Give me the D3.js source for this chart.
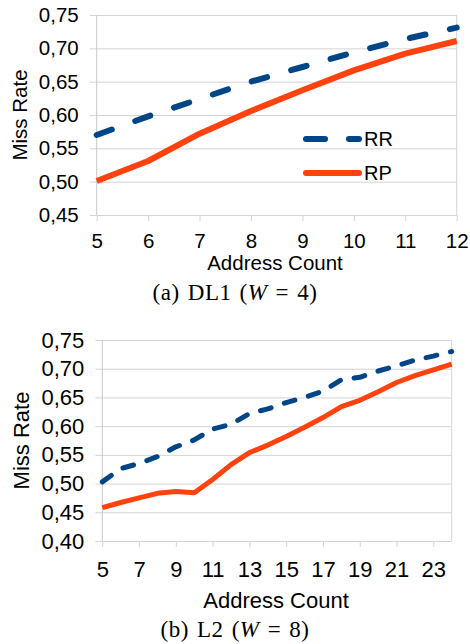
<!DOCTYPE html>
<html>
<head>
<meta charset="utf-8">
<script src="https://cdn.jsdelivr.net/npm/d3@7"></script>
<style>
  html, body { margin: 0; padding: 0; background: #fff; }
  svg { display: block; }
  .tick text { font-family: "Liberation Sans", Arial, sans-serif; fill: #000; }
  .axis path.domain { display: none; }
</style>
</head>
<body>
<svg id="chart" width="470" height="644"></svg>
<script>
// --- data ---
var dl1Count = [5, 6, 7, 8, 9, 10, 11, 12];
var dl1RR = [0.570, 0.598, 0.624, 0.650, 0.672, 0.694, 0.714, 0.731];
var dl1RP = [0.501, 0.531, 0.572, 0.606, 0.637, 0.667, 0.692, 0.711];
var dl1XTicks = [5, 6, 7, 8, 9, 10, 11, 12];
var dl1YTicks = [0.45, 0.50, 0.55, 0.60, 0.65, 0.70, 0.75];

var l2Count = [5, 6, 7, 8, 9, 10, 11, 12, 13, 14, 15, 16, 17, 18, 19, 20, 21, 22, 23, 24];
var l2RR = [0.503, 0.526, 0.535, 0.547, 0.564, 0.576, 0.595, 0.603, 0.622, 0.630,
            0.641, 0.650, 0.661, 0.681, 0.685, 0.696, 0.705, 0.715, 0.722, 0.730];
var l2RP = [0.458, 0.467, 0.475, 0.483, 0.486, 0.484, 0.507, 0.533, 0.554, 0.567,
            0.582, 0.598, 0.615, 0.634, 0.645, 0.660, 0.676, 0.688, 0.698, 0.708];
var l2XTicks = [5, 7, 9, 11, 13, 15, 17, 19, 21, 23];
var l2YTicks = [0.40, 0.45, 0.50, 0.55, 0.60, 0.65, 0.70, 0.75];

var seriesNames = ["RR", "RP"];
var seriesColors = ["#004586", "#ff420e"];

var comma = d3.formatLocale({decimal: ",", thousands: ".", grouping: [3], currency: ["", ""]}).format(".2f");
var svg = d3.select("#chart");

function drawPanel(opt) {
  var width = opt.right - opt.left,
      height = opt.bottom - opt.top;

  var x = d3.scaleLinear().domain(opt.xDomain).range([0, width]);
  var y = d3.scaleLinear().domain(opt.yDomain).range([height, 0]);

  var g = svg.append("g")
      .attr("transform", "translate(" + opt.left + "," + opt.top + ")");

  // y axis + gridlines
  var yAxis = g.append("g")
      .attr("class", "axis y")
      .call(d3.axisLeft(y).tickValues(opt.yTicks).tickSize(7).tickPadding(11).tickFormat(comma));
  yAxis.selectAll(".tick line")
      .attr("x1", width)
      .attr("stroke", "#d4d4d4");
  yAxis.selectAll(".tick text")
      .style("font-size", opt.font + "px");

  // x axis ticks
  var xAxis = g.append("g")
      .attr("class", "axis x")
      .attr("transform", "translate(0," + height + ")")
      .call(d3.axisBottom(x).tickValues(opt.xTicks).tickSize(6).tickPadding(opt.xPad).tickFormat(d3.format("d")));
  xAxis.selectAll(".tick line").attr("stroke", "#d4d4d4");
  xAxis.selectAll(".tick text").style("font-size", opt.font + "px");

  // left axis line and right border
  g.append("line").attr("x1", 0).attr("x2", 0).attr("y1", 0).attr("y2", height).attr("stroke", "#c8c8c8");
  g.append("line").attr("x1", width).attr("x2", width).attr("y1", 0).attr("y2", height).attr("stroke", "#d4d4d4");

  // lines
  var line = d3.line()
      .x(function(d) { return x(d[0]); })
      .y(function(d) { return y(d[1]); });

  g.append("path")
      .datum(d3.zip(opt.count, opt.rp))
      .attr("d", line)
      .attr("fill", "none")
      .attr("stroke", seriesColors[1])
      .attr("stroke-width", opt.lw)
      .attr("stroke-linejoin", "round");

  g.append("path")
      .datum(d3.zip(opt.count, opt.rr))
      .attr("d", line)
      .attr("fill", "none")
      .attr("stroke", seriesColors[0])
      .attr("stroke-width", opt.lw)
      .attr("stroke-linecap", "round")
      .attr("stroke-linejoin", "round")
      .attr("stroke-dasharray", opt.dash);

  // axis titles
  svg.append("text")
      .attr("transform", "translate(" + opt.yTitleX + "," + (opt.top + height / 2) + ") rotate(-90)")
      .attr("text-anchor", "middle")
      .attr("dy", "0.35em")
      .style("font-family", "Liberation Sans, Arial, sans-serif")
      .style("font-size", opt.font + "px")
      .text("Miss Rate");

  svg.append("text")
      .attr("x", opt.xTitleX)
      .attr("y", opt.xTitleY)
      .attr("text-anchor", "middle")
      .style("font-family", "Liberation Sans, Arial, sans-serif")
      .style("font-size", opt.font + "px")
      .text("Address Count");

  // caption (wider math-style spacing)
  var cap = svg.append("text")
      .attr("x", opt.capX)
      .attr("y", opt.capY)
      .attr("text-anchor", "middle")
      .style("font-family", "Liberation Serif, Times New Roman, serif")
      .style("font-size", "23px")
      .style("letter-spacing", "0.5px");
  cap.append("tspan").text(opt.capPre + "\u2004(");
  cap.append("tspan").style("font-style", "italic").text("W");
  cap.append("tspan").text("\u2004=\u2004" + opt.capW + ")");

  return g;
}

drawPanel({
  left: 96.7, right: 456.7, top: 15, bottom: 215,
  xDomain: [5, 12], yDomain: [0.45, 0.75],
  xTicks: dl1XTicks, yTicks: dl1YTicks,
  count: dl1Count, rr: dl1RR, rp: dl1RP,
  font: 20.5, lw: 6, dash: "16,25", xPad: 12,
  yTitleX: 20, xTitleX: 275, xTitleY: 270,
  capX: 235, capY: 300, capPre: "(a)\u2004DL1", capW: "4"
});

drawPanel({
  left: 102.3, right: 451.7, top: 340, bottom: 541,
  xDomain: [5, 24], yDomain: [0.40, 0.75],
  xTicks: l2XTicks, yTicks: l2YTicks,
  count: l2Count, rr: l2RR, rp: l2RP,
  font: 22, lw: 5, dash: "11,14", xPad: 14,
  yTitleX: 21, xTitleX: 276, xTitleY: 608,
  capX: 235, capY: 637, capPre: "(b)\u2004L2", capW: "8"
});

// legend (top panel only)
var legend = svg.append("g").attr("class", "legend");
var legendY = [139, 173];
seriesNames.forEach(function(name, i) {
  var row = legend.append("g").attr("transform", "translate(0," + legendY[i] + ")");
  row.append("line")
      .attr("x1", 306).attr("x2", 359)
      .attr("stroke", seriesColors[i])
      .attr("stroke-width", 6)
      .attr("stroke-linecap", "round")
      .attr("stroke-dasharray", i === 0 ? "19,24" : null);
  row.append("text")
      .attr("x", 364)
      .attr("dy", "0.36em")
      .style("font-family", "Liberation Sans, Arial, sans-serif")
      .style("font-size", "20px")
      .text(name);
});
</script>
</body>
</html>
